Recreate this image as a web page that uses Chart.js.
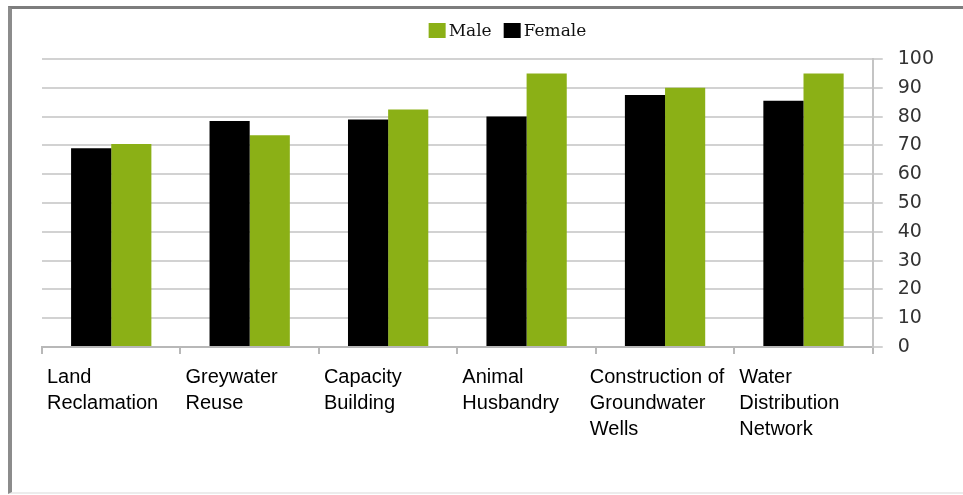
<!DOCTYPE html>
<html>
<head>
<meta charset="utf-8">
<script src="https://cdn.jsdelivr.net/npm/chart.js@4"></script>
<style>
  html, body { margin: 0; padding: 0; background: #fff; }
  #wrap { position: relative; width: 963px; height: 495px; overflow: hidden; }
  #frame {
    position: absolute; left: 8px; top: 6px; width: 970px; height: 483px;
    border-top: 3px solid #7d7d7d; border-left: 4px solid #8c8c8c; border-bottom: 2px solid #ececec;
  }
  canvas { position: absolute; left: 0; top: 0; }
</style>
</head>
<body>
<div id="wrap">
  <div id="frame"></div>
  <canvas id="c" width="963" height="495"></canvas>
</div>
<script>
// Project categories (each entry is the wrapped lines of its axis label)
const categories = [
  ['Land', 'Reclamation'],
  ['Greywater', 'Reuse'],
  ['Capacity', 'Building'],
  ['Animal', 'Husbandry'],
  ['Construction of', 'Groundwater', 'Wells'],
  ['Water', 'Distribution', 'Network']
];
// Percentages per group
const femaleValues = [69, 78.5, 79, 80, 87.5, 85.5];
const maleValues = [70.5, 73.5, 82.5, 95, 90, 95];
// Value axis ticks
const yTicks = [0, 10, 20, 30, 40, 50, 60, 70, 80, 90, 100];

const GREEN = '#8bb016';
const BLACK = '#000000';

// Legend drawn above the plot: Male first, then Female
const legendPlugin = {
  id: 'topLegend',
  afterDraw(chart) {
    const ctx = chart.ctx;
    const items = [
      { text: 'Male', color: GREEN },
      { text: 'Female', color: BLACK }
    ];
    ctx.save();
    ctx.font = '17px "DejaVu Serif"';
    ctx.textBaseline = 'middle';
    const box = 17, gap = 3, itemGap = 12;
    let total = 0;
    items.forEach((it, i) => {
      it.w = ctx.measureText(it.text).width;
      total += box + gap + it.w + (i ? itemGap : 0);
    });
    let x = chart.width / 2 + 26 - total / 2;
    const cy = 31;
    items.forEach((it, i) => {
      if (i) x += itemGap;
      ctx.fillStyle = it.color;
      ctx.fillRect(x, cy - 8, box, 15);
      x += box + gap;
      ctx.fillStyle = '#111';
      ctx.fillText(it.text, x, cy + 1);
      x += it.w;
    });
    ctx.restore();
  }
};

// Category labels: left-aligned wrapped lines under each category slot
const categoryLabelPlugin = {
  id: 'categoryLabels',
  afterDraw(chart) {
    const ctx = chart.ctx;
    const xs = chart.scales.x;
    const area = chart.chartArea;
    const slot = (area.right - area.left) / categories.length;
    ctx.save();
    ctx.font = '20px "Liberation Sans", Arial, sans-serif';
    ctx.fillStyle = '#000';
    ctx.textAlign = 'left';
    ctx.textBaseline = 'alphabetic';
    categories.forEach((lines, i) => {
      const center = xs.getPixelForValue(i);
      const w = Math.max(...lines.map(l => ctx.measureText(l).width));
      const left = Math.min(center - slot / 2 + 5, center - w / 2 - 8);
      lines.forEach((line, j) => {
        ctx.fillText(line, left, area.bottom + 36 + j * 26);
      });
    });
    ctx.restore();
  }
};

new Chart(document.getElementById('c'), {
  type: 'bar',
  data: {
    labels: categories.map(l => l.join(' ')),
    datasets: [
      { label: 'Female', data: femaleValues, backgroundColor: BLACK, borderWidth: 0 },
      { label: 'Male', data: maleValues, backgroundColor: GREEN, borderWidth: 0 }
    ]
  },
  options: {
    responsive: false,
    animation: false,
    events: [],
    layout: { padding: { left: 42, right: 14, top: 59, bottom: 141 } },
    datasets: { bar: { categoryPercentage: 0.58, barPercentage: 1.0 } },
    plugins: { legend: { display: false }, tooltip: { enabled: false } },
    scales: {
      x: {
        grid: {
          offset: true, drawOnChartArea: false, drawTicks: true,
          tickLength: 7, color: '#b8b8b8', lineWidth: 2
        },
        border: { display: true, color: '#b8b8b8', width: 2 },
        ticks: { display: false }
      },
      y: {
        position: 'right',
        min: 0, max: 100,
        afterBuildTicks(scale) { scale.ticks = yTicks.map(v => ({ value: v })); },
        grid: { color: '#d2d2d2', lineWidth: 2, tickLength: 10, drawTicks: true },
        border: { display: true, color: '#c4c4c4', width: 2 },
        ticks: {
          padding: 15,
          color: '#333333',
          font: { family: '"DejaVu Sans"', size: 19 }
        }
      }
    }
  },
  plugins: [legendPlugin, categoryLabelPlugin]
});
</script>
</body>
</html>
